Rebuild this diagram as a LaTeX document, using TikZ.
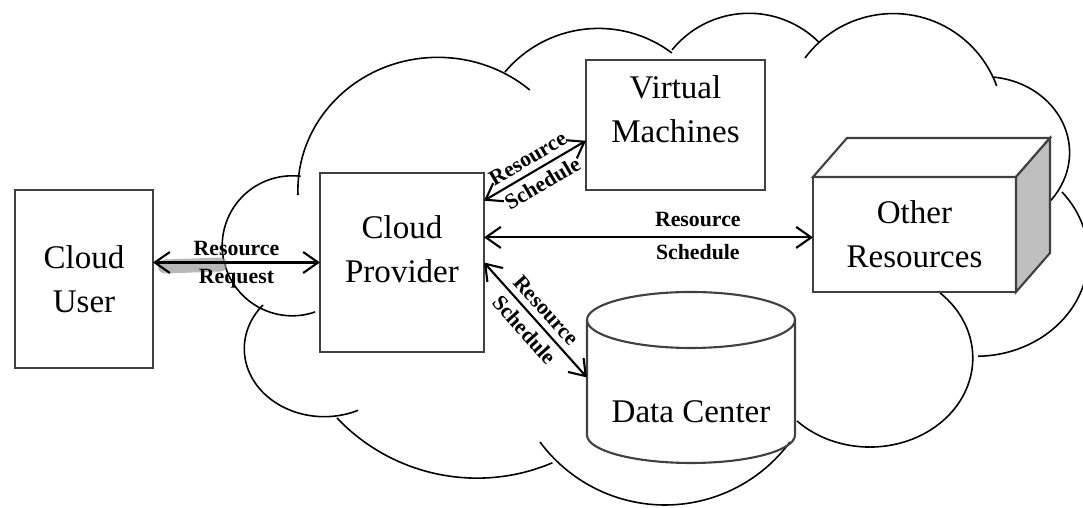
\documentclass[tikz,border=0pt]{standalone}
\usepackage{fontspec}
\setmainfont{Liberation Serif}
\usetikzlibrary{arrows.meta}
\newcommand{\mainsize}{\fontsize{9.4}{12.4}\selectfont}
\newcommand{\tagsize}{\fontsize{6.2}{7}\selectfont\bfseries}
\begin{document}
\begin{tikzpicture}[x=0.1mm,y=0.1mm]
            \tikzset{
                box/.style={draw=black!75,line width=0.6pt,fill=white,inner sep=0pt,outer sep=0pt},
                boxtext/.style={font=\mainsize,align=center,inner sep=0pt},
                tag/.style={font=\tagsize,inner sep=1.7pt},
                link/.style={<->,>={Straight Barb[length=1.5mm,width=2.1mm]},line width=0.6pt},
                puff/.style={line width=0.45pt},}
            \useasboundingbox (0,0) rectangle (1083,508);
            % cloud
            \draw [puff](315,196) arc[start angle=289,end angle=83,radius=70];
            \draw [puff](263,203) arc[start angle=140,end angle=295,x radius=80,y radius=68];
            \draw [puff](337,90) arc[start angle=223.5,end angle=293,radius=193];
            \draw [puff](540,66) arc[start angle=216.5,end angle=323.5,radius=155.5];
            \draw [puff](797,87) arc[start angle=-135,end angle=47,x radius=103,y radius=89];
            \draw [puff](1062,316) arc[start angle=40,end angle=-89,x radius=112,y radius=100];
            \draw [puff](992,431) arc[start angle=85,end angle=-39,x radius=85,y radius=76];
            \draw [puff](805,450) arc[start angle=143.4,end angle=20,radius=110];
            \draw [puff](672,458) arc[start angle=141,end angle=45,radius=99];
            \draw [puff](505,436) arc[start angle=140,end angle=53,radius=122];
            \draw [puff](298,313) arc[start angle=182,end angle=49,x radius=140,y radius=133];
            % boxes
            \node [box,minimum width=13.8mm,minimum height=17.8mm,label={[boxtext]center:Cloud\\User}] (user) at (84,229) {};
            \node [box,minimum width=16.4mm,minimum height=17.9mm,label={[boxtext,yshift=1.35mm]center:Cloud\\Provider}] (provider) at (402,245.5) {};
            \node [box,minimum width=17.9mm,minimum height=13mm,label={[boxtext,yshift=1.6mm]center:Virtual\\Machines}] (vm) at (675.5,383) {};
            \node [box,minimum width=20.3mm,minimum height=11.5mm,label={[boxtext]center:Other\\Resources}] (other) at (914.5,273.5) {};
            \draw [box](other.north west) -- ++(34,39) -- ([shift={(34,39)}]other.north east) -- (other.north east) -- cycle;
            \draw [box,fill=black!25](other.north east) -- ++(34,39) -- ([shift={(34,39)}]other.south east) -- (other.south east) -- cycle;
            \node [inner sep=0pt,outer sep=0pt,minimum width=20.8mm,minimum height=11.5mm,label={[boxtext,yshift=-3.45mm]center:Data Center}] (dc) at (691,130.5) {};
            \draw [box,fill=none](dc.south west) -- (dc.north west) arc[start angle=180,end angle=0,x radius=104,y radius=28] -- (dc.south east) arc[start angle=0,end angle=-180,x radius=104,y radius=28];
            \draw [box,fill=none](dc.north west) arc[start angle=180,end angle=360,x radius=104,y radius=28];
            % links
            \draw [black!40,line width=1.4mm,line cap=round,opacity=0.7](provider.west -| user.east) ++(12,-4) -- ++(55,2);
            \draw [link](provider.west -| user.east) -- (provider.west) node [tag,midway,above] {Resource} node [tag,midway,below] {Request};
            \draw [link](provider.37) -- (vm.190) node [tag,midway,sloped,above] {Resource} node [tag,midway,sloped,below] {Schedule};
            \draw [link](provider.17) -- (provider.17 -| other.west) node [tag,pos=0.65,above,yshift=0.4mm] {Resource} node [tag,pos=0.65,below] {Schedule};
            \draw [link](provider.east) -- (dc.west) node [tag,midway,sloped,above] {Resource} node [tag,midway,sloped,below] {Schedule};
        \end{tikzpicture}
\end{document}
